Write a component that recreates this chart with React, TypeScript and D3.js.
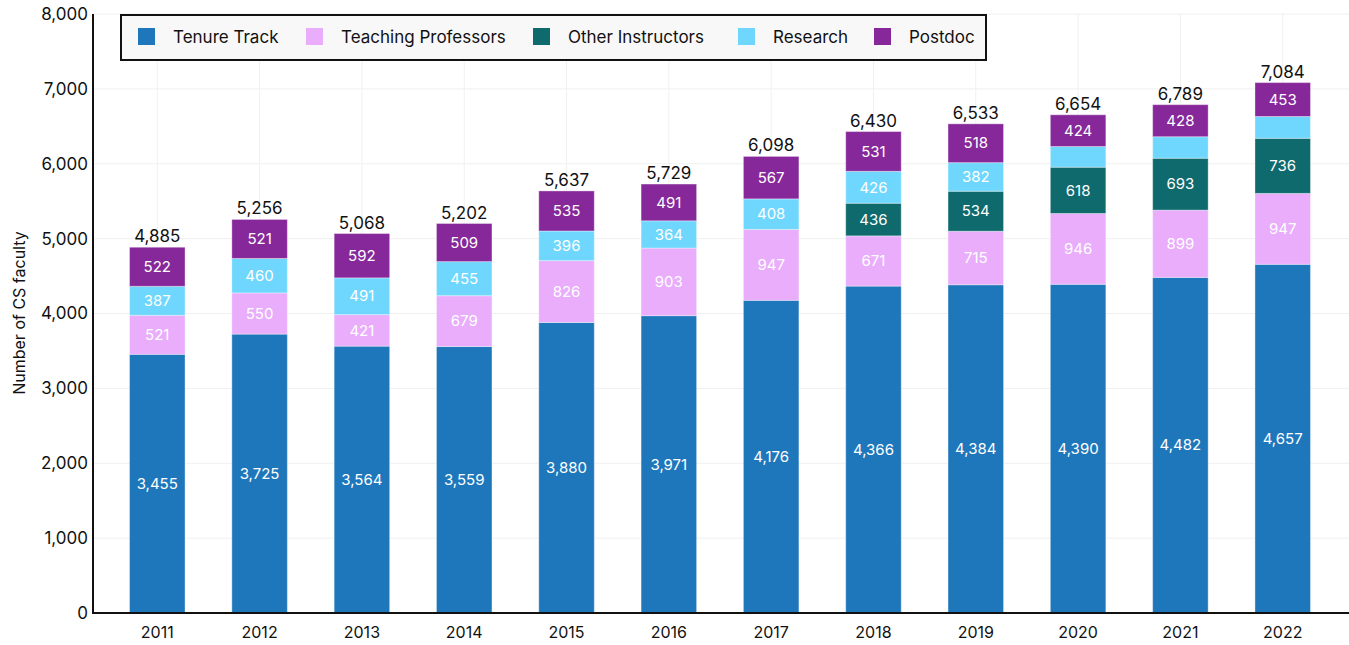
import React from "react";
import * as d3 from "d3";

const years = ["2011","2012","2013","2014","2015","2016","2017","2018","2019","2020","2021","2022"];
const tenureTrack = [3455,3725,3564,3559,3880,3971,4176,4366,4384,4390,4482,4657];
const teachingProfessors = [521,550,421,679,826,903,947,671,715,946,899,947];
const otherInstructors = [0,0,0,0,0,0,0,436,534,618,693,736];
const research = [387,460,491,455,396,364,408,426,382,276,287,291];
const postdoc = [522,521,592,509,535,491,567,531,518,424,428,453];
const yTicks = [0,1000,2000,3000,4000,5000,6000,7000,8000];

const seriesNames = ["Tenure Track","Teaching Professors","Other Instructors","Research","Postdoc"];
const seriesValues = [tenureTrack, teachingProfessors, otherInstructors, research, postdoc];
const colors = ["#1f77bb","#e9adfc","#0f6a6e","#6fd7fd","#86289a"];

const W = 1349, H = 645;
const FONT = "Inter, 'Noto Sans', sans-serif";

export default function App() {
  const y = d3.scaleLinear().domain([0, 8000]).range([613, 14]);
  const x = d3.scaleBand<string>().domain(years).range([93, 1347]).paddingInner(0.4575).paddingOuter(0.357);
  const rows = years.map((yr, i) => {
    const r: any = { year: yr };
    seriesNames.forEach((s, k) => (r[s] = seriesValues[k][i]));
    return r;
  });
  const stack = d3.stack<any>().keys(seriesNames)(rows);
  const totals = years.map((_, i) => seriesValues.reduce((a, s) => a + s[i], 0));
  const fmt = d3.format(",");
  const bw = x.bandwidth();

  const legendX = [138, 306, 533, 738, 874];

  return (
    <svg width={W} height={H} style={{ position: "absolute", left: 0, top: 0, fontFamily: FONT }}>
      <rect width={W} height={H} fill="#fff" />
      {yTicks.slice(1).map((t) => (
        <line key={"h" + t} x1={93} x2={1349} y1={y(t)} y2={y(t)} stroke="#f0f0f0" strokeWidth={1} />
      ))}
      {years.map((yr) => (
        <line key={"v" + yr} x1={x(yr)! + bw / 2} x2={x(yr)! + bw / 2} y1={14} y2={613} stroke="#f0f0f0" strokeWidth={1} />
      ))}
      {stack.map((layer, k) => (
        <g key={layer.key} fill={colors[k]}>
          {layer.map((d, i) => {
            const h = y(d[0]) - y(d[1]);
            if (h <= 0) return null;
            return (
              <rect key={i} x={x(years[i])} y={y(d[1])} width={bw} height={h} stroke="rgba(255,255,255,0.35)" strokeWidth={1} />
            );
          })}
        </g>
      ))}
      {stack.map((layer, k) => (
        <g key={"l" + layer.key}>
          {layer.map((d, i) => {
            const v = seriesValues[k][i];
            if (v < 300) return null;
            return (
              <text key={i} x={x(years[i])! + bw / 2} y={(y(d[0]) + y(d[1])) / 2} dy="0.35em" textAnchor="middle" fill="#fff" fontSize={15}>
                {fmt(v)}
              </text>
            );
          })}
        </g>
      ))}
      {totals.map((t, i) => (
        <text key={"t" + i} x={x(years[i])! + bw / 2} y={y(t) - 5} textAnchor="middle" fill="#111" fontSize={17}>
          {fmt(t)}
        </text>
      ))}
      <line x1={93} x2={93} y1={14} y2={614} stroke="#111" strokeWidth={2} />
      <line x1={92} x2={1349} y1={613} y2={613} stroke="#111" strokeWidth={2} />
      {yTicks.map((t) => (
        <text key={"yt" + t} x={88} y={y(t)} dy="0.35em" textAnchor="end" fill="#111" fontSize={17}>
          {fmt(t)}
        </text>
      ))}
      {years.map((yr) => (
        <text key={"xt" + yr} x={x(yr)! + bw / 2} y={632} dy="0.35em" textAnchor="middle" fill="#111" fontSize={16}>
          {yr}
        </text>
      ))}
      <text transform="translate(19,313) rotate(-90)" textAnchor="middle" dy="0.35em" fill="#111" fontSize={16}>
        Number of CS faculty
      </text>
      <rect x={121} y={15} width={865} height={45} fill="#f8f8f8" stroke="#111" strokeWidth={2} />
      {seriesNames.map((s, k) => (
        <g key={"lg" + s}>
          <rect x={legendX[k]} y={28} width={17} height={17} fill={colors[k]} />
          <text x={legendX[k] + 35} y={37} dy="0.35em" fill="#111" fontSize={17}>
            {s}
          </text>
        </g>
      ))}
    </svg>
  );
}
